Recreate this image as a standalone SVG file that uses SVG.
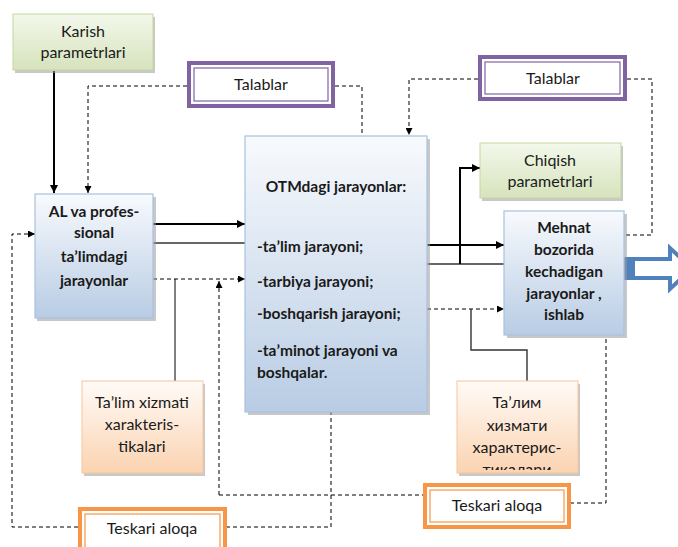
<svg xmlns="http://www.w3.org/2000/svg" width="678" height="547" viewBox="0 0 678 547">
<defs>
<linearGradient id="gGreen" x1="0" y1="0" x2="0" y2="1"><stop offset="0" stop-color="#f3f8eb"/><stop offset="1" stop-color="#d6e3bc"/></linearGradient>
<linearGradient id="gBlue" x1="0" y1="0" x2="0" y2="1"><stop offset="0" stop-color="#f8fafd"/><stop offset="1" stop-color="#b8cce4"/></linearGradient>
<linearGradient id="gOrange" x1="0" y1="0" x2="0" y2="1"><stop offset="0" stop-color="#fffbf7"/><stop offset="1" stop-color="#fbd3b1"/></linearGradient>
<marker id="ah" viewBox="0 0 10 10" refX="10" refY="5" markerWidth="8" markerHeight="8" markerUnits="userSpaceOnUse" orient="auto"><path d="M0,0 L10,5 L0,10 z" fill="#000"/></marker>
<marker id="ahs" viewBox="0 0 10 10" refX="10" refY="5" markerWidth="7" markerHeight="7" markerUnits="userSpaceOnUse" orient="auto"><path d="M0,0 L10,5 L0,10 z" fill="#000"/></marker>
<clipPath id="clipRus"><rect x="457" y="381" width="121" height="89"/></clipPath>
</defs>
<style>
text{font-family:Lato,"Liberation Sans",sans-serif;font-size:16px;fill:#1a1a1a;text-anchor:middle}
.b{font-weight:bold;font-size:15.5px}
.l{text-anchor:start}
.sh{fill:#9a9a9a;opacity:0.55}
.green{fill:url(#gGreen);stroke:#c4d79f;stroke-width:1}
.blue{fill:url(#gBlue);stroke:#a9c1df;stroke-width:1.2}
.orange{fill:url(#gOrange);stroke:#f8c69a;stroke-width:1}
.pOut{fill:#fff;stroke:#8064a2;stroke-width:4}
.pIn{fill:none;stroke:#8064a2;stroke-width:1.2}
.oOut{fill:#fff;stroke:#f79646;stroke-width:4}
.oIn{fill:none;stroke:#f79646;stroke-width:1.2}
.thick{fill:none;stroke:#000;stroke-width:2}
.thin{fill:none;stroke:#000;stroke-width:1}
.gray{fill:none;stroke:#333;stroke-width:1.4}
.dash{fill:none;stroke:#000;stroke-width:1;stroke-dasharray:4,3}
</style>

<g id="connectors">
<path class="thick" d="M54,71 V193" marker-end="url(#ah)"/>
<path class="dash" d="M187,86 H88 V193" marker-end="url(#ahs)"/>
<path class="dash" d="M335,86 H362 V136"/>
<path class="dash" d="M478,79 H409 V135" marker-end="url(#ahs)"/>
<path class="dash" d="M627,79 H652 V235 H624"/>
<path class="thick" d="M153,224 H245" marker-end="url(#ah)"/>
<path class="gray" d="M153,243 H246"/>
<path class="dash" d="M153,279 H245" marker-end="url(#ahs)"/>
<path class="thin" d="M175,381 V279"/>
<path class="dash" d="M219,495 V281" marker-end="url(#ahs)"/>
<path class="dash" d="M219,495 H423"/>
<path class="thick" d="M427,245 H504" marker-end="url(#ah)"/>
<path class="gray" d="M427,264 H505"/>
<path class="thick" d="M460,264 V168 H480" marker-end="url(#ah)"/>
<path class="dash" d="M427,309 H504" marker-end="url(#ahs)"/>
<path class="gray" d="M471,309 V350 H527 V381"/>
<path class="dash" d="M570,503 H606 V337"/>
<path class="dash" d="M78,527 H12 V234 H35" marker-end="url(#ahs)"/>
<path class="dash" d="M226,527 H331 V412"/>
<rect x="624" y="257" width="10" height="23" fill="#4f81bd"/>
<path d="M633,259 H670 V248 L692,268.5 L670,289 V278 H633 Z" fill="#fff" stroke="#4f81bd" stroke-width="4" stroke-linejoin="miter"/>
</g>

<g id="karish">
<rect class="sh" x="15" y="17" width="140" height="56"/>
<rect class="green" x="13" y="14" width="140" height="56"/>
<text x="83" y="37">Karish</text>
<text x="83" y="58">parametrlari</text>
</g>

<g id="talablar1">
<rect class="pOut" x="189" y="63" width="144" height="43"/>
<rect class="pIn" x="194" y="68" width="134" height="33"/>
<text x="261" y="90">Talablar</text>
</g>

<g id="talablar2">
<rect class="pOut" x="480" y="57" width="145" height="42"/>
<rect class="pIn" x="485" y="62" width="135" height="32"/>
<text x="553" y="84">Talablar</text>
</g>

<g id="al">
<rect class="sh" x="37" y="197" width="119" height="124"/>
<rect class="blue" x="35" y="194" width="118" height="124"/>
<text class="b" x="94" y="217">AL va profes-</text>
<text class="b" x="94" y="238">sional</text>
<text class="b" x="94" y="262">taʼlimdagi</text>
<text class="b" x="94" y="286">jarayonlar</text>
</g>

<g id="otm">
<rect class="sh" x="248" y="139" width="182" height="276"/>
<rect class="blue" x="245" y="136" width="182" height="276"/>
<text class="b" x="336" y="192">OTMdagi jarayonlar:</text>
<text class="b l" x="257" y="252">-taʼlim jarayoni;</text>
<text class="b l" x="257" y="287">-tarbiya jarayoni;</text>
<text class="b l" x="257" y="319">-boshqarish jarayoni;</text>
<text class="b l" x="257" y="356">-taʼminot jarayoni va</text>
<text class="b l" x="257" y="378">boshqalar.</text>
</g>

<g id="chiqish">
<rect class="sh" x="482" y="146" width="141" height="55"/>
<rect class="green" x="480" y="143" width="141" height="55"/>
<text x="550" y="166">Chiqish</text>
<text x="550" y="187">parametrlari</text>
</g>

<g id="mehnat">
<rect class="sh" x="507" y="214" width="120" height="124"/>
<rect class="blue" x="504" y="211" width="120" height="124"/>
<text class="b" x="564" y="233">Mehnat</text>
<text class="b" x="564" y="255">bozorida</text>
<text class="b" x="564" y="277">kechadigan</text>
<text class="b" x="564" y="299">jarayonlar ,</text>
<text class="b" x="564" y="320">ishlab</text>
</g>

<g id="talimLat">
<rect class="sh" x="84" y="384" width="121" height="92"/>
<rect class="orange" x="82" y="381" width="121" height="92"/>
<text x="142" y="408">Taʼlim xizmati</text>
<text x="142" y="430">xarakteris-</text>
<text x="142" y="452">tikalari</text>
</g>

<g id="talimRus">
<rect class="sh" x="459" y="384" width="121" height="92"/>
<rect class="orange" x="457" y="381" width="121" height="92"/>
<text x="517" y="408">Taʼлим</text>
<text x="517" y="431">хизмати</text>
<text x="517" y="453">характерис-</text>
<g clip-path="url(#clipRus)"><text x="517" y="475">тикалари</text></g>
</g>

<g id="teskari1">
<rect class="oOut" x="80" y="509" width="145" height="44"/>
<rect class="oIn" x="85" y="514" width="135" height="34"/>
<text x="152" y="534">Teskari aloqa</text>
</g>

<g id="teskari2">
<rect class="oOut" x="425" y="485" width="144" height="42"/>
<rect class="oIn" x="430" y="490" width="134" height="32"/>
<text x="497" y="511">Teskari aloqa</text>
</g>
</svg>
